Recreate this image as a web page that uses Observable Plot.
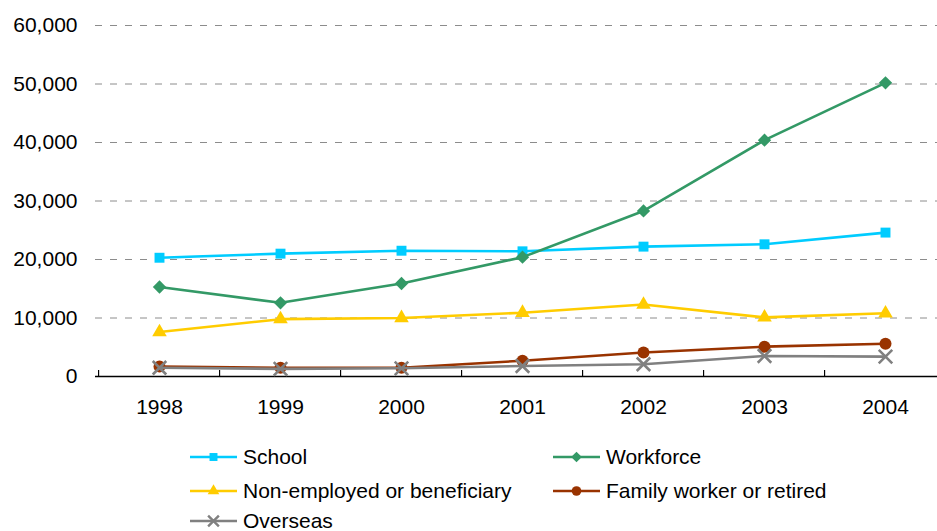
<!DOCTYPE html>
<html>
<head>
<meta charset="utf-8">
<script src="https://cdn.jsdelivr.net/npm/d3@7"></script>
<script src="https://cdn.jsdelivr.net/npm/@observablehq/plot@0.6"></script>
<style>
  html, body { margin: 0; padding: 0; background: #fff; overflow: hidden; }
  #wrap { position: relative; width: 937px; height: 531px; overflow: hidden; font-family: "Liberation Sans", Arial, sans-serif; }
  .leg { position: absolute; display: flex; align-items: center; font-size: 21px; color: #000; white-space: nowrap; line-height: 24px; }
  .leg svg { margin-right: 6px; }
</style>
</head>
<body>
<div id="wrap"></div>
<script>
// ---- data ----
const years = ["1998", "1999", "2000", "2001", "2002", "2003", "2004"];
const school = [20300, 21000, 21500, 21400, 22200, 22600, 24600];
const workforce = [15300, 12600, 15900, 20400, 28300, 40400, 50200];
const nonEmployed = [7600, 9800, 10000, 10900, 12300, 10100, 10800];
const familyWorker = [1700, 1500, 1500, 2700, 4100, 5100, 5600];
const overseas = [1500, 1300, 1400, 1800, 2100, 3500, 3400];
const seriesNames = ["School", "Workforce", "Non-employed or beneficiary", "Family worker or retired", "Overseas"];
const yTicks = [0, 10000, 20000, 30000, 40000, 50000, 60000];

// ---- styles ----
const seriesValues = [school, workforce, nonEmployed, familyWorker, overseas];
const colors = ["#00CCFF", "#339966", "#FFCC00", "#993300", "#808080"];
const symbols = ["square", "diamond2", "triangle", "circle", "times"];
const radii = [5.6, 6, 5.4, 6, 6.2];

const W = 937, H = 430, mL = 95, mT = 25, mB = 54;
const step = 121.86;
const plotH = H - mT - mB;
const font = "'Liberation Sans', Arial, sans-serif";

const rows = [];
seriesNames.forEach((s, i) => years.forEach((y, j) => rows.push({series: s, year: y, value: seriesValues[i][j]})));

const marks = [
  Plot.ruleY(yTicks.filter(d => d > 0), {stroke: "#8c8c8c", strokeDasharray: "7,8", strokeWidth: 1}),
  Plot.axisY(yTicks, {tickSize: 0, tickPadding: 18, tickFormat: d3.format(","), fontSize: 21, label: null}),
  Plot.axisX({tickSize: 0, tickPadding: 23, fontSize: 21, label: null}),
  Plot.ruleY([0], {stroke: "#000", strokeWidth: 1.3}),
  Plot.ruleX(years, {x: d => d, dx: -step / 2, insetTop: plotH - 6, stroke: "#000", strokeWidth: 1.2})
];
seriesNames.forEach((s, i) => {
  const data = rows.filter(r => r.series === s);
  marks.push(Plot.line(data, {x: "year", y: "value", stroke: colors[i], strokeWidth: 2.6}));
  if (symbols[i] === "times") {
    marks.push(Plot.dot(data, {x: "year", y: "value", symbol: symbols[i], r: radii[i], stroke: colors[i], strokeWidth: 2.6, fill: "none"}));
  } else {
    marks.push(Plot.dot(data, {x: "year", y: "value", symbol: symbols[i], r: radii[i], fill: colors[i], stroke: "none"}));
  }
});

const chart = Plot.plot({
  width: W, height: H,
  marginLeft: mL, marginRight: 0, marginTop: mT, marginBottom: mB,
  style: {fontFamily: font, fontSize: "21px", color: "#000", background: "white"},
  x: {type: "point", domain: years, range: [mL, mL + 7 * step], padding: 0.5, label: null},
  y: {domain: [0, 60000], label: null},
  marks
});
const wrap = document.getElementById("wrap");
wrap.appendChild(chart);

// ---- legend ----
const legPos = [[190, 445], [553, 445], [190, 479], [553, 479], [190, 509]];
seriesNames.forEach((s, i) => {
  const item = document.createElement("div");
  item.className = "leg";
  item.style.left = legPos[i][0] + "px";
  item.style.top = legPos[i][1] + "px";
  const sw = d3.create("svg").attr("width", 47).attr("height", 20);
  sw.append("line").attr("x1", 0).attr("x2", 47).attr("y1", 10).attr("y2", 10)
    .attr("stroke", colors[i]).attr("stroke-width", 2.6);
  const symMap = {square: d3.symbolSquare, diamond2: d3.symbolDiamond2, triangle: d3.symbolTriangle, circle: d3.symbolCircle, times: d3.symbolTimes};
  const r = radii[i] * 0.8;
  const p = sw.append("path").attr("transform", "translate(23.5,10)")
    .attr("d", d3.symbol(symMap[symbols[i]], Math.PI * r * r)());
  if (symbols[i] === "times") p.attr("fill", "none").attr("stroke", colors[i]).attr("stroke-width", 2.4);
  else p.attr("fill", colors[i]);
  item.appendChild(sw.node());
  const t = document.createElement("span");
  t.textContent = s;
  item.appendChild(t);
  wrap.appendChild(item);
});
</script>
</body>
</html>
